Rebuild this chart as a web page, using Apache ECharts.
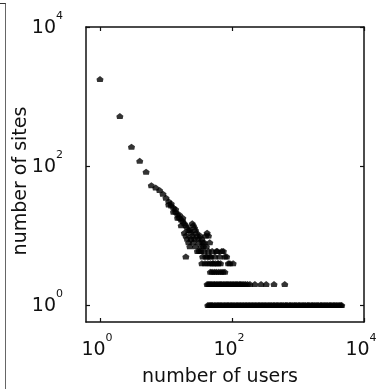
<!DOCTYPE html>
<html><head><meta charset="utf-8">
<script src="https://cdn.jsdelivr.net/npm/echarts@6/dist/echarts.min.js"></script>
<style>html,body{margin:0;padding:0;background:#fff}#c{width:381px;height:389px}</style>
</head><body><div id="c"></div>
<script>
// Upper part of the distribution (number of users, number of sites)
const headUsers = [1, 2, 3, 4, 5, 6, 7, 8, 9, 10, 11, 12, 13, 14, 15, 16, 17, 18, 19, 20, 21, 22, 23, 24, 25, 26, 27, 28,
  11, 12, 13, 14, 15, 16, 17, 18,
  19, 20, 21, 22, 23, 24, 25, 26, 27, 28, 29, 30, 31, 32, 33, 34, 35, 36, 37, 38, 40, 41, 42, 44, 46,
  20, 30, 32, 34, 36, 38, 40, 42, 44, 46, 48, 50, 52, 55, 58, 60, 62, 65, 70, 74, 78, 83, 88, 93, 104,
  35, 39, 43, 47, 51, 56, 61, 67];
const headSites = [1780, 525, 190, 119, 83, 53, 49, 45, 40, 35, 31, 27, 25, 22, 20, 18, 17, 16, 15, 14, 13, 12, 12, 11, 15, 14, 13, 12,
  28, 29, 22, 24, 18, 20, 14, 18,
  11, 10, 9, 8, 7, 9, 10, 8, 9, 7, 11, 10, 9, 8, 10, 7, 9, 8, 7, 8, 10, 7, 11, 10, 8,
  5, 6, 6, 6, 5, 6, 5, 5, 6, 5, 5, 6, 4, 5, 6, 6, 4, 5, 6, 6, 5, 5, 4, 4, 4,
  4, 4, 4, 4, 4, 4, 4, 4];
// Sites with exactly 3, 2 and 1 as count
const row3Users = [47, 50, 54, 58, 63, 68, 73, 78];
const row2Users = [42, 44, 46, 48, 50, 53, 55, 58, 61, 64, 67, 70, 74, 78, 82, 86, 90, 95, 100, 105, 111, 116, 122, 129, 135, 142, 151, 160, 172, 187, 222, 276, 330, 433, 630];
const row1Users = [43, 45, 47, 49, 51, 54, 57, 60, 63, 66, 69, 73, 77, 81, 85, 89, 94, 99, 104, 110, 116, 122, 128, 135, 142, 150, 158, 166, 175, 184, 194, 204, 215, 226, 238, 251, 263, 277, 292, 307, 323, 340, 360, 377, 397, 421, 440, 466, 488, 514, 545, 570, 600, 640, 665, 700, 745, 776, 817, 870, 905, 953, 1010, 1056, 1112, 1180, 1232, 1297, 1380, 1437, 1513, 1610, 1677, 1765, 1870, 1956, 2059, 2190, 2282, 2402, 2540, 2662, 2802, 2970, 3105, 3269, 3460, 3622, 3813, 4030, 4226, 4450, 4600];
const tickValues = [1, 100, 10000];

const points = [];
headUsers.forEach((u, i) => points.push([u, headSites[i]]));
row3Users.forEach(u => points.push([u, 3]));
row2Users.forEach(u => points.push([u, 2]));
row1Users.forEach(u => points.push([u, 1]));

const FONT = 'DejaVu Sans';
const TXT = '#111';
function fmt(v) {
  const e = Math.round(Math.log10(v));
  return '{b|10}{e|' + e + '}';
}
const rich = {
  b: {fontSize: 19, fontFamily: FONT, color: TXT, height: 14, lineHeight: 23, verticalAlign: 'bottom'},
  e: {fontSize: 11, fontFamily: FONT, color: TXT, height: 8, lineHeight: 8, verticalAlign: 'top'}
};
const axisLine = {show: true, onZero: false, lineStyle: {color: '#111', width: 1.5}};
const axisTick = {show: true, inside: true, length: 4, customValues: tickValues, lineStyle: {color: '#111', width: 1.2}};

const xMin = 0.614, xMax = 10000, yMin = 0.57, yMax = 10000;

const chart = echarts.init(document.getElementById('c'), null, {renderer: 'canvas'});
chart.setOption({
  animation: false,
  backgroundColor: '#fff',
  grid: {left: 86, right: 17, top: 27, bottom: 67, containLabel: false, outerBoundsMode: 'none'},
  xAxis: [
    {type: 'log', logBase: 10, position: 'bottom', min: xMin, max: xMax,
     axisLine, axisTick, splitLine: {show: false}, minorTick: {show: false},
     axisLabel: {customValues: tickValues, formatter: fmt, rich, margin: 12, padding: [0, 6, 0, 0]},
     name: 'number of users', nameLocation: 'middle', nameGap: 46, nameMoveOverlap: false,
     nameTextStyle: {fontSize: 19, fontFamily: FONT, color: TXT, padding: [0, 10, 0, 0]}},
    {type: 'log', logBase: 10, position: 'top', min: xMin, max: xMax,
     axisLine, axisTick, splitLine: {show: false}, axisLabel: {show: false}}
  ],
  yAxis: [
    {type: 'log', logBase: 10, position: 'left', min: yMin, max: yMax,
     axisLine, axisTick, splitLine: {show: false}, minorTick: {show: false},
     axisLabel: {customValues: tickValues, formatter: fmt, rich, margin: 23, align: 'right', padding: [0, 0, 7, 0]},
     name: 'number of sites', nameLocation: 'middle', nameGap: 55, nameRotate: 90, nameMoveOverlap: false,
     nameTextStyle: {fontSize: 19, fontFamily: FONT, color: TXT, padding: [0, 13, 0, 0]}},
    {type: 'log', logBase: 10, position: 'right', min: yMin, max: yMax,
     axisLine, axisTick, splitLine: {show: false}, axisLabel: {show: false}}
  ],
  series: [{
    type: 'scatter', xAxisIndex: 0, yAxisIndex: 0,
    symbol: 'path://M5,0 L10,4 L9,9 L1,9 L0,4 Z', symbolSize: [7, 6],
    itemStyle: {color: '#000'},
    data: points
  }],
  graphic: [
    {type: 'line', shape: {x1: 5.5, y1: 3, x2: 5.5, y2: 389}, style: {stroke: '#666', lineWidth: 1}},
    {type: 'line', shape: {x1: 0, y1: 3.5, x2: 5.5, y2: 3.5}, style: {stroke: '#333', lineWidth: 1}}
  ]
});
</script></body></html>
